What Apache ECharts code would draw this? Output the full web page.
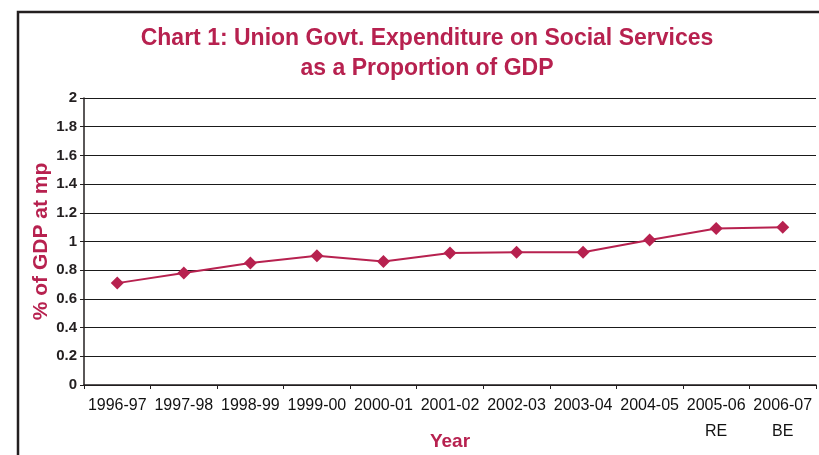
<!DOCTYPE html>
<html>
<head>
<meta charset="utf-8">
<script src="https://cdn.jsdelivr.net/npm/echarts@6/dist/echarts.min.js"></script>
<style>
html,body{margin:0;padding:0;background:#fff;}
#chart{width:819px;height:455px;}
</style>
</head>
<body>
<div id="chart"></div>
<script>
var categories = ['1996-97','1997-98','1998-99','1999-00','2000-01','2001-02','2002-03','2003-04','2004-05','2005-06\nRE','2006-07\nBE'];
var expenditure = [0.71,0.78,0.85,0.90,0.86,0.92,0.925,0.925,1.01,1.09,1.10];
var yTicks = {min:0, max:2, interval:0.2};

var crimson = '#b7214f';
var ink = '#231f20';

var chart = echarts.init(document.getElementById('chart'), null, {renderer:'canvas'});
chart.setOption({
  backgroundColor:'#ffffff',
  animation:false,
  title:{
    text:'Chart 1: Union Govt. Expenditure on Social Services\nas a Proportion of GDP',
    left:422, top:19, textAlign:'center',
    textStyle:{color:crimson, fontFamily:'Liberation Sans, Arial, sans-serif', fontWeight:'bold', fontSize:23, lineHeight:30}
  },
  graphic:[{
    type:'rect', silent:true, z:-1,
    shape:{x:18, y:12, width:900, height:600},
    style:{fill:null, stroke:ink, lineWidth:2.5}
  }],
  grid:{left:84, right:3, top:98, bottom:70, containLabel:false, outerBoundsMode:'none'},
  xAxis:{
    type:'category', data:categories, boundaryGap:true,
    name:'Year', nameLocation:'middle', nameGap:47, nameMoveOverlap:false,
    nameTextStyle:{color:crimson, fontFamily:'Liberation Sans, Arial, sans-serif', fontWeight:'bold', fontSize:19},
    axisLine:{lineStyle:{color:ink, width:1.5}},
    axisTick:{show:true, length:4, lineStyle:{color:ink}},
    axisLabel:{color:'#111', fontFamily:'Liberation Sans, Arial, sans-serif', fontSize:16, margin:8, lineHeight:26, interval:0, hideOverlap:false}
  },
  yAxis:{
    type:'value', min:yTicks.min, max:yTicks.max, interval:yTicks.interval,
    name:'% of GDP at mp', nameLocation:'middle', nameGap:32, nameRotate:90, nameMoveOverlap:false,
    nameTextStyle:{color:crimson, fontFamily:'Liberation Sans, Arial, sans-serif', fontWeight:'bold', fontSize:21},
    axisLine:{show:true, lineStyle:{color:ink, width:1.5}},
    axisTick:{show:true, length:4, lineStyle:{color:ink}},
    axisLabel:{color:ink, fontFamily:'Liberation Sans, Arial, sans-serif', fontWeight:'bold', fontSize:15, margin:7,
      formatter:function(v){return String(Math.round(v*10)/10);}},
    splitLine:{show:true, lineStyle:{color:'#1a1a1a', width:1}}
  },
  series:[{
    type:'line', data:expenditure,
    symbol:'diamond', symbolSize:13,
    lineStyle:{color:crimson, width:2},
    itemStyle:{color:crimson}
  }]
});
</script>
</body>
</html>
